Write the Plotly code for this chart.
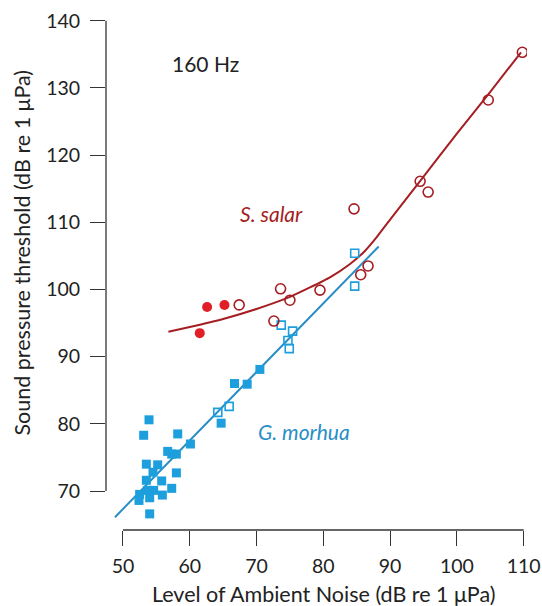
import plotly.graph_objects as go

# ---- data ----
gm_filled_x = [53.9, 53.1, 58.2, 60.1, 56.7, 58.0, 57.3, 53.5, 55.2, 58.0, 54.5, 53.5, 55.8,
               54.6, 57.3, 52.5, 53.7, 55.9, 54.0, 52.4, 54.0, 64.7, 66.7, 68.6, 70.5]
gm_filled_y = [80.6, 78.3, 78.5, 77.0, 75.9, 75.5, 75.5, 74.0, 73.9, 72.7, 72.8, 71.6, 71.5,
               70.1, 70.4, 69.5, 70.1, 69.4, 69.0, 68.6, 66.6, 80.1, 86.0, 85.9, 88.1]
gm_open_x = [64.2, 65.9, 73.7, 75.4, 74.7, 74.9, 84.7, 84.7]
gm_open_y = [81.7, 82.6, 94.7, 93.8, 92.4, 91.2, 105.4, 100.5]

ss_filled_x = [62.6, 65.2, 61.5]
ss_filled_y = [97.4, 97.7, 93.5]
ss_open_x = [67.4, 73.6, 75.0, 79.5, 72.6, 84.6, 86.7, 85.6, 94.5, 95.7, 104.7, 109.8]
ss_open_y = [97.7, 100.1, 98.4, 99.9, 95.3, 112.0, 103.5, 102.2, 116.1, 114.5, 128.2, 135.3]

gm_fit_x = [48.8, 88.3]
gm_fit_y = [66.1, 106.4]
ss_fit_x = [56.8, 60.0, 65.0, 70.0, 75.0, 78.0, 81.0, 84.0, 86.0, 88.0, 90.0, 94.4, 100.0, 105.0, 109.6]
ss_fit_y = [93.7, 94.4, 95.6, 97.1, 98.9, 100.3, 101.8, 103.8, 105.5, 107.8, 110.4, 116.0, 123.2, 129.4, 135.3]

x_ticks = [50, 60, 70, 80, 90, 100, 110]
y_ticks = [70, 80, 90, 100, 110, 120, 130, 140]

BLUE = "#1c9fdc"
BLUE_LINE = "#2a8ec6"
RED_DARK = "#a51e23"
RED_FILL = "#e02026"
AXIS = "#333333"
FONT = "Lato"

fig = go.Figure()
fig.add_trace(go.Scatter(x=gm_fit_x, y=gm_fit_y, mode="lines",
                         line=dict(color=BLUE_LINE, width=2), hoverinfo="skip"))
fig.add_trace(go.Scatter(x=ss_fit_x, y=ss_fit_y, mode="lines",
                         line=dict(color=RED_DARK, width=2, shape="spline", smoothing=0.5),
                         hoverinfo="skip"))
fig.add_trace(go.Scatter(x=gm_filled_x, y=gm_filled_y, mode="markers",
                         marker=dict(symbol="square", size=9, color=BLUE, line=dict(width=0))))
fig.add_trace(go.Scatter(x=gm_open_x, y=gm_open_y, mode="markers",
                         marker=dict(symbol="square-open", size=8, color=BLUE, line=dict(width=1.6))))
fig.add_trace(go.Scatter(x=ss_filled_x, y=ss_filled_y, mode="markers",
                         marker=dict(symbol="circle", size=10, color=RED_FILL, line=dict(width=0))))
fig.add_trace(go.Scatter(x=ss_open_x, y=ss_open_y, mode="markers",
                         marker=dict(symbol="circle-open", size=10, color=RED_DARK, line=dict(width=1.6))))

# detached axis lines
fig.add_shape(type="line", xref="paper", yref="y", x0=0, x1=0, y0=70, y1=140,
              line=dict(color=AXIS, width=1.3))
fig.add_shape(type="line", xref="x", yref="paper", x0=50, x1=110, y0=0, y1=0,
              line=dict(color=AXIS, width=1.3))

fig.add_annotation(x=62.3, y=133.7, text="160 Hz", showarrow=False,
                   font=dict(family=FONT, size=21, color="#222222"))
fig.add_annotation(x=72.3, y=111.3, text="<i>S. salar</i>", showarrow=False,
                   font=dict(family=FONT, size=21, color=RED_DARK))
fig.add_annotation(x=77.1, y=78.8, text="<i>G. morhua</i>", showarrow=False,
                   font=dict(family=FONT, size=21, color=BLUE_LINE))

fig.add_annotation(x=80, xref="x", y=0, yref="paper", yshift=-64, yanchor="middle",
                   text="Level of Ambient Noise (dB re 1 μPa)", showarrow=False,
                   font=dict(family=FONT, size=21.5, color="#222222"))
fig.add_annotation(x=0, xref="paper", xshift=-84, y=105.5, yref="y", textangle=-90,
                   xanchor="center", text="Sound pressure threshold (dB re 1 μPa)", showarrow=False,
                   font=dict(family=FONT, size=21.5, color="#222222"))

fig.update_layout(
    width=542, height=606,
    margin=dict(l=106, r=15, t=14, b=76),
    paper_bgcolor="white", plot_bgcolor="white",
    showlegend=False,
    font=dict(family=FONT, color="#222222"),
)
fig.update_xaxes(range=[47.46, 110.5], tickvals=x_ticks, ticks="outside", ticklen=15,
                 tickwidth=1.3, tickcolor=AXIS, showgrid=False, zeroline=False, showline=False,
                 automargin=False,
                 tickfont=dict(family=FONT, size=19.5, color="#222222"), ticklabelstandoff=4)
fig.update_yaxes(range=[64.2, 141], tickvals=y_ticks, ticks="outside", ticklen=15,
                 tickwidth=1.3, tickcolor=AXIS, showgrid=False, zeroline=False, showline=False,
                 automargin=False,
                 tickfont=dict(family=FONT, size=19.5, color="#222222"), ticklabelstandoff=6)

fig.write_html("out.html", config={"displayModeBar": False},
               post_script="document.body.style.margin='0';document.body.style.overflow='hidden';")
